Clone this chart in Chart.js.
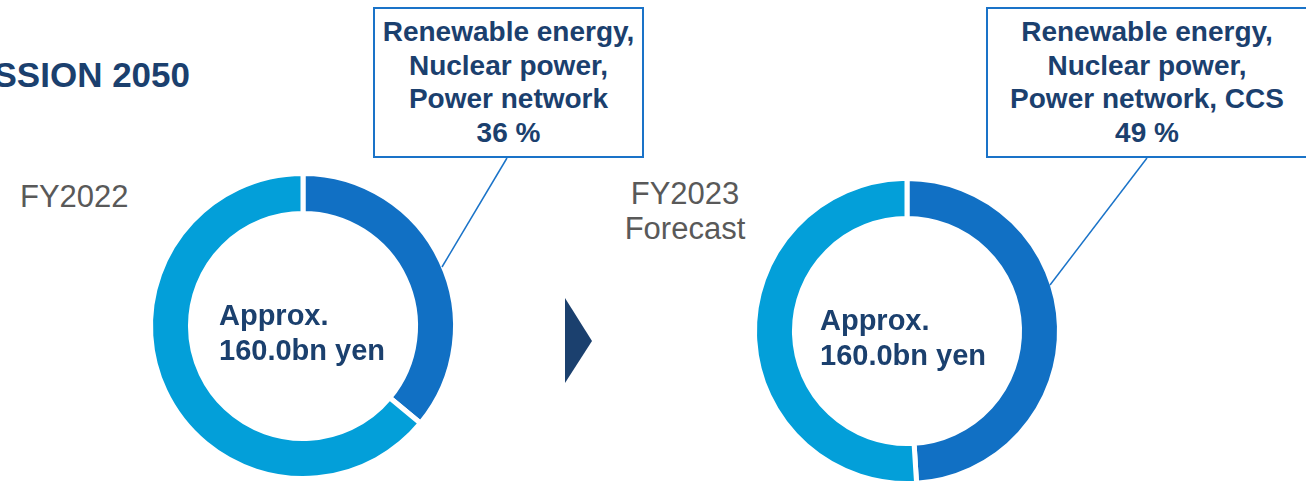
<!DOCTYPE html>
<html>
<head>
<meta charset="utf-8">
<script src="https://cdn.jsdelivr.net/npm/chart.js@4.4.1/dist/chart.umd.min.js"></script>
<style>
    body {
        margin: 0;
        width: 1306px;
        height: 482px;
        overflow: hidden;
        background: #fff;
        position: relative;
        font-family: Arial, "Liberation Sans", sans-serif;
    }
    .abs { position: absolute; }
    .title {
        right: 1116px;
        top: 57px;
        font-size: 35px;
        line-height: 35px;
        font-weight: bold;
        color: #1b406e;
        white-space: nowrap;
    }
    .year {
        font-size: 31px;
        line-height: 35px;
        color: #595959;
        text-align: center;
        white-space: pre;
    }
    .center-text {
        font-size: 29px;
        line-height: 35px;
        font-weight: bold;
        color: #1b406e;
        white-space: pre;
    }
    .callout {
        box-sizing: border-box;
        border: 2px solid #1a73c8;
        background: #fff;
        padding-top: 6px;
        font-size: 28px;
        line-height: 33.5px;
        font-weight: bold;
        color: #1b406e;
        text-align: center;
        white-space: pre;
    }
    canvas { position: absolute; }
    svg { position: absolute; left: 0; top: 0; }
</style>
</head>
<body>

<div class="abs title" id="title"></div>
<div class="abs year" id="year-0" style="left:20px; top:179px; text-align:left;"></div>
<div class="abs year" id="year-1" style="left:585px; width:200px; top:176px;"></div>

<canvas id="donut-0" width="340" height="340" style="left:133px; top:156px;"></canvas>
<canvas id="donut-1" width="340" height="340" style="left:737px; top:161px;"></canvas>

<div class="abs center-text" id="center-0" style="left:219px; top:298px;"></div>
<div class="abs center-text" id="center-1" style="left:820px; top:303px;"></div>

<svg width="1306" height="482">
    <polygon points="565,298 592,341 565,383" fill="#1b406e"></polygon>
    <line x1="507" y1="158" x2="442" y2="267" stroke="#1a73c8" stroke-width="1.5"></line>
    <line x1="1147" y1="158" x2="1050" y2="285" stroke="#1a73c8" stroke-width="1.5"></line>
</svg>

<div class="abs callout" id="callout-0" style="left:373px; top:7px; width:271px; height:151px;"></div>
<div class="abs callout" id="callout-1" style="left:986px; top:7px; width:322px; height:151px;"></div>

<script>
// chart data
const titleText = 'MISSION 2050';
const years = ['FY2022', 'FY2023\nForecast'];
const segmentLabels = ['Renewable energy, Nuclear power, Power network (CCS)', 'Other'];
const share2022 = [36, 64];
const share2023 = [49, 51];
const totals = [160.0, 160.0];
const calloutLines2022 = ['Renewable energy,', 'Nuclear power,', 'Power network'];
const calloutLines2023 = ['Renewable energy,', 'Nuclear power,', 'Power network, CCS'];
const segmentColors = ['#1170c4', '#039fd9'];

const shares = [share2022, share2023];
const callouts = [calloutLines2022, calloutLines2023];

document.getElementById('title').textContent = titleText;

function makeDonut(id, values) {
    const ctx = document.getElementById(id).getContext('2d');
    return new Chart(ctx, {
        type: 'doughnut',
        data: {
            labels: segmentLabels,
            datasets: [{
                data: values,
                backgroundColor: segmentColors,
                borderColor: '#ffffff',
                borderWidth: 5,
                hoverOffset: 0
            }]
        },
        options: {
            responsive: false,
            animation: false,
            radius: 152.5,
            cutout: '73.8%',
            layout: { padding: 0 },
            events: [],
            plugins: {
                legend: { display: false },
                tooltip: { enabled: false }
            }
        }
    });
}

for (let i = 0; i < years.length; i++) {
    document.getElementById('year-' + i).textContent = years[i];
    document.getElementById('center-' + i).textContent = 'Approx.\n' + totals[i].toFixed(1) + 'bn yen';
    document.getElementById('callout-' + i).textContent = callouts[i].join('\n') + '\n' + shares[i][0] + ' %';
    makeDonut('donut-' + i, shares[i]);
}
</script>
</body>
</html>
